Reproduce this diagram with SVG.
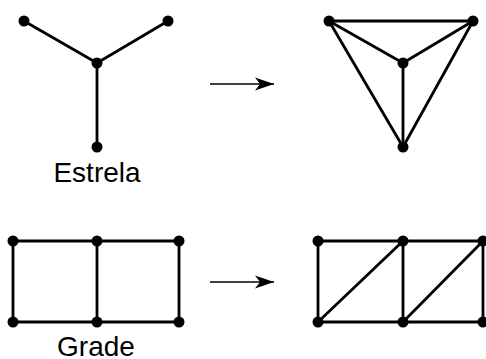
<svg xmlns="http://www.w3.org/2000/svg" width="486" height="359" viewBox="0 0 486 359">
  <style>
    .edge { stroke: #000; stroke-width: 2.8; fill: none; stroke-linecap: round; }
    .arrow { stroke: #000; stroke-width: 1.5; fill: none; }
    .node { fill: #000; }
    .label { font-family: "Liberation Sans", Arial, sans-serif; font-size: 28px; fill: #000; text-anchor: middle; }
  </style>
  <defs>
    <marker id="head" markerWidth="22" markerHeight="14" refX="19" refY="7" orient="auto" markerUnits="userSpaceOnUse">
      <path d="M0,0.5 L19,7 L0,13.5 L5,7 Z" fill="#000"/>
    </marker>
  </defs>

  <!-- connectors -->
  <g id="connectors">
    <!-- star -->
    <line class="edge" x1="24" y1="21" x2="97" y2="63"/>
    <line class="edge" x1="168" y1="21" x2="97" y2="63"/>
    <line class="edge" x1="97" y1="63" x2="97" y2="147"/>
    <!-- triangulated star -->
    <line class="edge" x1="329" y1="21" x2="473" y2="21"/>
    <line class="edge" x1="329" y1="21" x2="403" y2="63"/>
    <line class="edge" x1="473" y1="21" x2="403" y2="63"/>
    <line class="edge" x1="403" y1="63" x2="403" y2="147"/>
    <line class="edge" x1="329" y1="21" x2="403" y2="147"/>
    <line class="edge" x1="473" y1="21" x2="403" y2="147"/>
    <!-- grid -->
    <line class="edge" x1="13" y1="241" x2="179" y2="241"/>
    <line class="edge" x1="13" y1="322" x2="179" y2="322"/>
    <line class="edge" x1="13" y1="241" x2="13" y2="322"/>
    <line class="edge" x1="97" y1="241" x2="97" y2="322"/>
    <line class="edge" x1="179" y1="241" x2="179" y2="322"/>
    <!-- triangulated grid -->
    <line class="edge" x1="318" y1="241" x2="483" y2="241"/>
    <line class="edge" x1="318" y1="322" x2="483" y2="322"/>
    <line class="edge" x1="318" y1="241" x2="318" y2="322"/>
    <line class="edge" x1="403" y1="241" x2="403" y2="322"/>
    <line class="edge" x1="483" y1="241" x2="483" y2="322"/>
    <line class="edge" x1="318" y1="322" x2="403" y2="241"/>
    <line class="edge" x1="403" y1="322" x2="483" y2="241"/>
    <!-- transformation arrows -->
    <line class="arrow" x1="210" y1="84" x2="274" y2="84" marker-end="url(#head)"/>
    <line class="arrow" x1="210" y1="282" x2="274" y2="282" marker-end="url(#head)"/>
  </g>

  <!-- star nodes -->
  <g id="star-left"><circle class="node" cx="24" cy="21" r="5.5"/></g>
  <g id="star-right"><circle class="node" cx="168" cy="21" r="5.5"/></g>
  <g id="star-center"><circle class="node" cx="97" cy="63" r="5.5"/></g>
  <g id="star-bottom"><circle class="node" cx="97" cy="147" r="5.5"/></g>
  <g id="star-label"><text class="label" x="97" y="182">Estrela</text></g>

  <!-- triangulated star nodes -->
  <g id="tri-left"><circle class="node" cx="329" cy="21" r="5.5"/></g>
  <g id="tri-right"><circle class="node" cx="473" cy="21" r="5.5"/></g>
  <g id="tri-center"><circle class="node" cx="403" cy="63" r="5.5"/></g>
  <g id="tri-bottom"><circle class="node" cx="403" cy="147" r="5.5"/></g>

  <!-- grid nodes -->
  <g id="grid-tl"><circle class="node" cx="13" cy="241" r="5.5"/></g>
  <g id="grid-tm"><circle class="node" cx="97" cy="241" r="5.5"/></g>
  <g id="grid-tr"><circle class="node" cx="179" cy="241" r="5.5"/></g>
  <g id="grid-bl"><circle class="node" cx="13" cy="322" r="5.5"/></g>
  <g id="grid-bm"><circle class="node" cx="97" cy="322" r="5.5"/></g>
  <g id="grid-br"><circle class="node" cx="179" cy="322" r="5.5"/></g>
  <g id="grid-label"><text class="label" x="96" y="356">Grade</text></g>

  <!-- triangulated grid nodes -->
  <g id="tgrid-tl"><circle class="node" cx="318" cy="241" r="5.5"/></g>
  <g id="tgrid-tm"><circle class="node" cx="403" cy="241" r="5.5"/></g>
  <g id="tgrid-tr"><circle class="node" cx="483" cy="241" r="5.5"/></g>
  <g id="tgrid-bl"><circle class="node" cx="318" cy="322" r="5.5"/></g>
  <g id="tgrid-bm"><circle class="node" cx="403" cy="322" r="5.5"/></g>
  <g id="tgrid-br"><circle class="node" cx="483" cy="322" r="5.5"/></g>
</svg>
